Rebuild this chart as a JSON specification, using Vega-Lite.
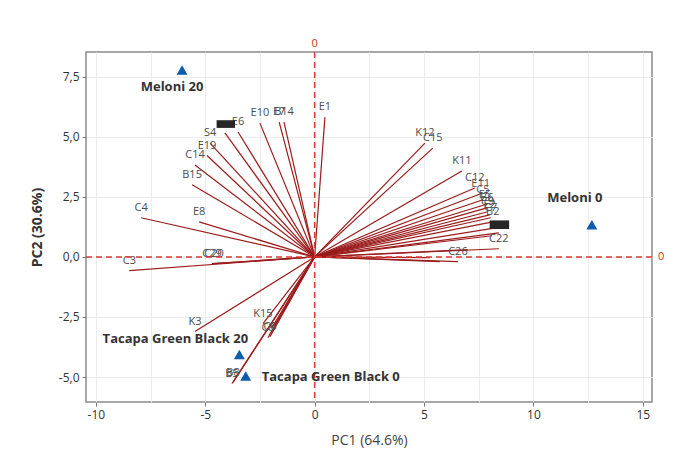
{
  "$schema": "https://vega.github.io/schema/vega-lite/v6.json",
  "width": 566,
  "height": 350,
  "autosize": "none",
  "padding": {"left": 86, "top": 52, "right": 37, "bottom": 57},
  "background": "white",
  "config": {
    "view": {"stroke": "#8a8a8a", "strokeWidth": 1.5},
    "font": "Open Sans"
  },
  "datasets": {
    "loadings": [
      {"label": "E1", "x": 0.47, "y": 5.82},
      {"label": "E10", "x": -2.50, "y": 5.57},
      {"label": "E7", "x": -1.62, "y": 5.61},
      {"label": "B14", "x": -1.40, "y": 5.61},
      {"label": "E6", "x": -3.50, "y": 5.20},
      {"label": "", "x": -4.10, "y": 5.16},
      {"label": "S4", "x": -4.78, "y": 4.74},
      {"label": "E19", "x": -4.92, "y": 4.22},
      {"label": "C14", "x": -5.47, "y": 3.83},
      {"label": "B15", "x": -5.60, "y": 3.00},
      {"label": "C4", "x": -7.93, "y": 1.63},
      {"label": "E8", "x": -5.28, "y": 1.46},
      {"label": "C3", "x": -8.47, "y": -0.57},
      {"label": "C20", "x": -4.60, "y": -0.28},
      {"label": "C29", "x": -4.69, "y": -0.28},
      {"label": "K3", "x": -5.47, "y": -3.11},
      {"label": "K15", "x": -2.36, "y": -2.78},
      {"label": "C8", "x": -2.13, "y": -3.36},
      {"label": "C6", "x": -2.04, "y": -3.32},
      {"label": "", "x": -1.95, "y": -2.94},
      {"label": "", "x": -1.86, "y": -2.90},
      {"label": "B5", "x": -3.78, "y": -5.27},
      {"label": "B8", "x": -3.73, "y": -5.23},
      {"label": "K12", "x": 5.04, "y": 4.74},
      {"label": "C15", "x": 5.40, "y": 4.53},
      {"label": "K11", "x": 6.73, "y": 3.58},
      {"label": "C12", "x": 7.32, "y": 2.87},
      {"label": "E11", "x": 7.59, "y": 2.63},
      {"label": "C5", "x": 7.69, "y": 2.38},
      {"label": "E5", "x": 7.78, "y": 2.17},
      {"label": "B6", "x": 7.87, "y": 2.04},
      {"label": "C9", "x": 7.91, "y": 1.88},
      {"label": "E2", "x": 8.00, "y": 1.75},
      {"label": "C7", "x": 8.05, "y": 1.63},
      {"label": "B2", "x": 8.14, "y": 1.46},
      {"label": "", "x": 8.28, "y": 1.21},
      {"label": "", "x": 8.42, "y": 1.00},
      {"label": "", "x": 8.10, "y": 0.88},
      {"label": "C22", "x": 8.42, "y": 0.34},
      {"label": "C26", "x": 6.55, "y": -0.20},
      {"label": "", "x": 7.00, "y": 0.30},
      {"label": "", "x": 5.72, "y": -0.20},
      {"label": "", "x": 5.26, "y": -0.03}
    ],
    "blobs": [
      {"x": -4.48, "x2": -3.64, "y": 5.37, "y2": 5.69},
      {"x": 8.00, "x2": 8.89, "y": 1.16, "y2": 1.52}
    ],
    "scores": [
      {"name": "Meloni 20", "x": -6.06, "y": 7.78},
      {"name": "Meloni 0", "x": 12.67, "y": 1.34},
      {"name": "Tacapa Green Black 20", "x": -3.44, "y": -4.06},
      {"name": "Tacapa Green Black 0", "x": -3.15, "y": -4.96}
    ],
    "one": [{}]
  },
  "layer": [
    {
      "data": {"name": "loadings"},
      "mark": {"type": "rule", "color": "#9b1c1c", "strokeWidth": 1.2},
      "encoding": {
        "x": {
          "field": "x", "type": "quantitative",
          "scale": {"domain": [-10.45, 15.42], "nice": false, "zero": false},
          "axis": {
            "values": [-10, -7.5, -5, -2.5, 0, 2.5, 5, 7.5, 10, 12.5, 15],
            "labelExpr": "datum.value % 5 === 0 ? '' + datum.value : ''",
            "tickOpacity": {"condition": {"test": "datum.value % 5 !== 0", "value": 0}, "value": 1},
            "grid": true, "gridColor": "#ececec", "gridWidth": 1,
            "domain": false, "tickColor": "#777", "tickSize": 4,
            "labelColor": "#333", "labelFontSize": 12, "labelPadding": 3, "labelFlush": false,
            "title": "PC1 (64.6%)", "titleFontSize": 14, "titleFontWeight": "normal", "titleColor": "#444",
            "titleX": 283, "titleY": 38, "titleBaseline": "middle", "titleAlign": "center"
          }
        },
        "y": {
          "field": "y", "type": "quantitative",
          "scale": {"domain": [-6.04, 8.53], "nice": false, "zero": false},
          "axis": {
            "values": [-5, -3.75, -2.5, -1.25, 0, 1.25, 2.5, 3.75, 5, 6.25, 7.5],
            "labelExpr": "datum.value % 2.5 === 0 ? (datum.value < 0 ? '-' : '') + replace(format(abs(datum.value), '.1f'), '.', ',') : ''",
            "tickOpacity": {"condition": {"test": "datum.value % 2.5 !== 0", "value": 0}, "value": 1},
            "grid": true, "gridColor": "#ececec", "gridWidth": 1,
            "domain": false, "tickColor": "#777", "tickSize": 4,
            "labelColor": "#333", "labelFontSize": 12, "labelPadding": 3, "labelFlush": false,
            "title": "PC2 (30.6%)", "titleFontSize": 14, "titleFontWeight": "bold", "titleColor": "#333",
            "titleX": -49, "titleY": 175, "titleAngle": -90, "titleBaseline": "middle", "titleAlign": "center"
          }
        },
        "x2": {"datum": 0},
        "y2": {"datum": 0}
      }
    },
    {
      "data": {"name": "loadings"},
      "mark": {"type": "text", "fontSize": 11, "color": "#4d4d4d", "dy": -10, "align": "center", "baseline": "middle"},
      "encoding": {
        "x": {"field": "x", "type": "quantitative"},
        "y": {"field": "y", "type": "quantitative"},
        "text": {"field": "label"}
      }
    },
    {
      "data": {"name": "blobs"},
      "mark": {"type": "rect", "color": "#262626"},
      "encoding": {
        "x": {"field": "x", "type": "quantitative"},
        "x2": {"field": "x2"},
        "y": {"field": "y", "type": "quantitative"},
        "y2": {"field": "y2"}
      }
    },
    {
      "data": {"name": "one"},
      "mark": {"type": "rule", "color": "#d93a32", "strokeWidth": 1.5, "strokeDash": [6, 4]},
      "encoding": {"x": {"datum": 0, "type": "quantitative"}}
    },
    {
      "data": {"name": "one"},
      "mark": {"type": "rule", "color": "#d93a32", "strokeWidth": 1.5, "strokeDash": [6, 4]},
      "encoding": {"y": {"datum": 0, "type": "quantitative"}}
    },
    {
      "data": {"name": "one"},
      "mark": {"type": "text", "color": "#c8312a", "fontSize": 11, "dy": -8, "baseline": "middle"},
      "encoding": {"x": {"datum": 0, "type": "quantitative"}, "y": {"datum": 8.53, "type": "quantitative"}, "text": {"value": "0"}}
    },
    {
      "data": {"name": "one"},
      "mark": {"type": "text", "color": "#c8312a", "fontSize": 11, "dx": 6, "align": "left", "baseline": "middle"},
      "encoding": {"x": {"datum": 15.42, "type": "quantitative"}, "y": {"datum": 0, "type": "quantitative"}, "text": {"value": "0"}}
    },
    {
      "data": {"name": "scores"},
      "mark": {"type": "point", "shape": "triangle-up", "filled": true, "color": "#0d5cad", "opacity": 1, "size": 120},
      "encoding": {
        "x": {"field": "x", "type": "quantitative"},
        "y": {"field": "y", "type": "quantitative"}
      }
    },
    {
      "data": {"name": "scores"},
      "transform": [{"filter": "datum.name === 'Meloni 20'"}],
      "mark": {"type": "text", "fontSize": 13, "fontWeight": "bold", "color": "#333", "dx": -10, "dy": 17, "align": "center", "baseline": "middle"},
      "encoding": {"x": {"field": "x", "type": "quantitative"}, "y": {"field": "y", "type": "quantitative"}, "text": {"field": "name"}}
    },
    {
      "data": {"name": "scores"},
      "transform": [{"filter": "datum.name === 'Meloni 0'"}],
      "mark": {"type": "text", "fontSize": 13, "fontWeight": "bold", "color": "#333", "dx": -17, "dy": -27, "align": "center", "baseline": "middle"},
      "encoding": {"x": {"field": "x", "type": "quantitative"}, "y": {"field": "y", "type": "quantitative"}, "text": {"field": "name"}}
    },
    {
      "data": {"name": "scores"},
      "transform": [{"filter": "datum.name === 'Tacapa Green Black 20'"}],
      "mark": {"type": "text", "fontSize": 13, "fontWeight": "bold", "color": "#333", "dx": -64, "dy": -15, "align": "center", "baseline": "middle"},
      "encoding": {"x": {"field": "x", "type": "quantitative"}, "y": {"field": "y", "type": "quantitative"}, "text": {"field": "name"}}
    },
    {
      "data": {"name": "scores"},
      "transform": [{"filter": "datum.name === 'Tacapa Green Black 0'"}],
      "mark": {"type": "text", "fontSize": 13, "fontWeight": "bold", "color": "#333", "dx": 16, "dy": 1, "align": "left", "baseline": "middle"},
      "encoding": {"x": {"field": "x", "type": "quantitative"}, "y": {"field": "y", "type": "quantitative"}, "text": {"field": "name"}}
    }
  ]
}
